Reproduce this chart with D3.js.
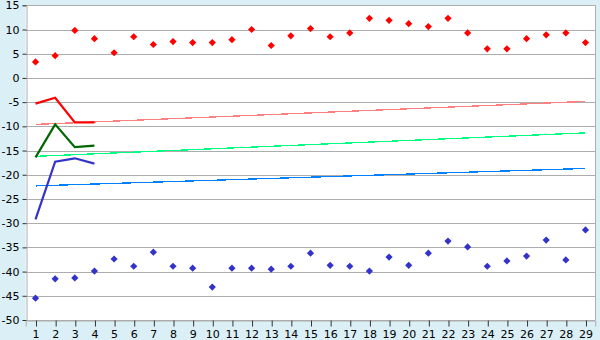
<!DOCTYPE html>
<html>
<head>
<meta charset="utf-8">
<script src="https://cdn.jsdelivr.net/npm/d3@7"></script>
<style>
  body { margin: 0; background: #daeff6; }
  svg { display: block; font-family: "DejaVu Sans", Verdana, sans-serif; font-size: 11px; }
</style>
</head>
<body>
<script>
const width = 600;
const height = 340;

const categories = d3.range(1, 30);
const yTicks = d3.range(-50, 16, 5);

// scatter series
const redPoints = [3.3, 4.6, 9.8, 8.1, 5.2, 8.5, 6.9, 7.5, 7.3, 7.3, 7.9, 10.0, 6.7, 8.7, 10.2,
                   8.5, 9.3, 12.3, 11.9, 11.2, 10.6, 12.3, 9.3, 6.0, 6.0, 8.1, 8.9, 9.3, 7.3];
const bluePoints = [-45.5, -41.5, -41.3, -39.9, -37.4, -38.9, -36.0, -38.9, -39.3, -43.2, -39.3, -39.3, -39.5, -38.9, -36.2,
                    -38.7, -38.9, -39.9, -37.0, -38.7, -36.2, -33.7, -34.9, -38.9, -37.8, -36.8, -33.5, -37.6, -31.4];

// short line series (categories 1-4)
const redLine = [-5.3, -4.1, -9.2, -9.2];
const greenLine = [-16.4, -9.6, -14.3, -14.0];
const blueLine = [-29.2, -17.3, -16.6, -17.7];

// trend lines: value at category 1 and at category 29
const redTrend = [-9.6, -4.85];
const greenTrend = [-16.2, -11.35];
const blueTrend = [-22.3, -18.7];

const svg = d3.select("body").append("svg")
              .attr("width", width)
              .attr("height", height);

const plot = {left: 25.7, right: 595.3, top: 5.3, bottom: 320};

const x = d3.scalePoint().domain(categories).range([plot.left, plot.right]).padding(0.5);
const y = d3.scaleLinear().domain([-50, 15]).range([plot.bottom, plot.top]);

svg.append("rect")
   .attr("x", plot.left).attr("y", plot.top)
   .attr("width", plot.right - plot.left).attr("height", plot.bottom - plot.top)
   .style("fill", "white");

// gridlines
svg.append("g").selectAll("line")
   .data(yTicks)
   .join("line")
   .attr("x1", plot.left).attr("x2", plot.right)
   .attr("y1", d => Math.round(y(d)) + 0.5).attr("y2", d => Math.round(y(d)) + 0.5)
   .style("stroke", "#adadad");

// right border and axis lines
svg.append("line")
   .attr("x1", Math.round(plot.right) + 0.5).attr("x2", Math.round(plot.right) + 0.5)
   .attr("y1", plot.top).attr("y2", plot.bottom)
   .style("stroke", "#adadad");

const yAxis = svg.append("g")
   .attr("transform", `translate(${Math.round(plot.left) + 0.5},0)`)
   .call(d3.axisLeft(y).tickValues(yTicks).tickSize(4).tickPadding(3).tickFormat(d => String(d).replace("−", "-")));

const xAxis = svg.append("g")
   .attr("transform", `translate(0,${Math.round(plot.bottom) + 0.5})`)
   .call(d3.axisBottom(x).tickSize(6).tickPadding(4));

[yAxis, xAxis].forEach(ax => {
    ax.attr("font-family", null).attr("font-size", null);
    ax.select(".domain").style("stroke", "#adadad");
    ax.selectAll(".tick line").style("stroke", "#333");
    ax.selectAll(".tick text").style("fill", "#000");
});
xAxis.selectAll(".tick line").attr("transform", "translate(0.5,0)");

// trend lines
const trends = [[redTrend, "#ff8080"], [greenTrend, "#00ff80"], [blueTrend, "#0080ff"]];
svg.append("g").selectAll("line")
   .data(trends)
   .join("line")
   .attr("x1", x(1)).attr("x2", x(29))
   .attr("y1", d => y(d[0][0])).attr("y2", d => y(d[0][1]))
   .style("stroke", d => d[1])
   .style("stroke-width", 1.3)
   .style("shape-rendering", "crispEdges");

// short lines
const lineGen = d3.line().x((d, i) => x(categories[i])).y(d => y(d));
svg.append("g").selectAll("path")
   .data([[redLine, "#ff0000"], [greenLine, "#006600"], [blueLine, "#3333cc"]])
   .join("path")
   .attr("d", d => lineGen(d[0]))
   .style("fill", "none")
   .style("stroke", d => d[1])
   .style("stroke-width", 2.2);

// markers
const marker = d3.symbol(d3.symbolSquare, 26);
function drawMarkers(values, color) {
    svg.append("g").selectAll("path")
       .data(values)
       .join("path")
       .attr("d", marker)
       .attr("transform", (d, i) => `translate(${x(categories[i])},${y(d)}) rotate(45)`)
       .style("fill", color);
}
drawMarkers(redPoints, "#ff0000");
drawMarkers(bluePoints, "#3333cc");
</script>
</body>
</html>
